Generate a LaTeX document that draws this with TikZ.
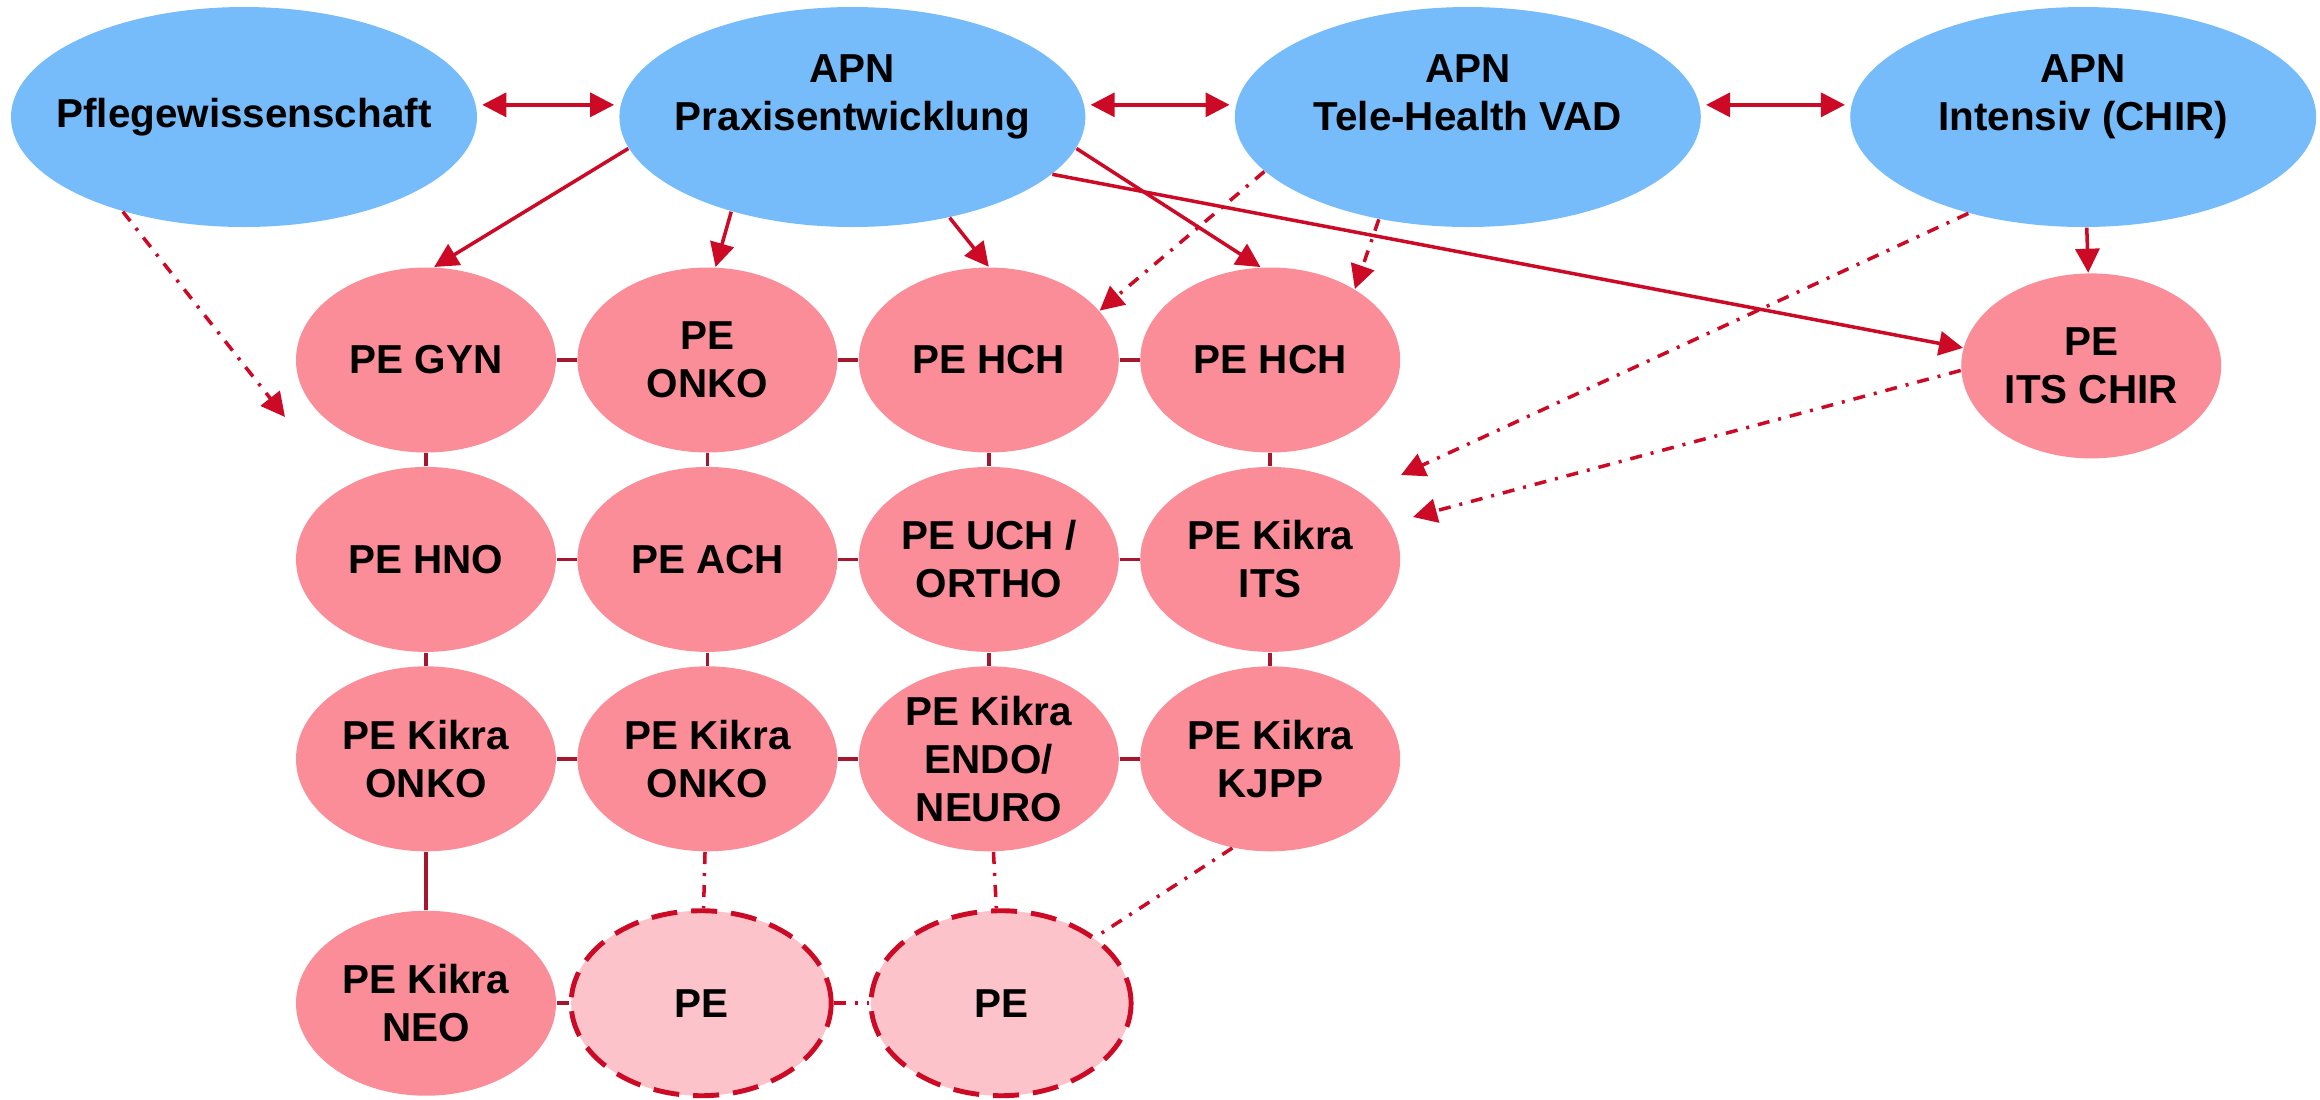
\documentclass[tikz,border=0pt]{standalone}
\usepackage{fontspec}
\setmainfont{Liberation Sans}
\usetikzlibrary{shapes.geometric, arrows.meta, positioning}

\definecolor{apnblue}{HTML}{76BCFB}
\definecolor{pepink}{HTML}{FA8D97}
\definecolor{pelight}{HTML}{FDC3CA}
\definecolor{arrowred}{HTML}{CC0A25}
\definecolor{linkred}{HTML}{A3182F}

\newcommand{\apntext}[1]{\raisebox{0.1cm}[0pt][0pt]{\begin{tabular}{@{}c@{}}APN\\#1\end{tabular}}}

\begin{document}
\begin{tikzpicture}[
        apn/.style={
            ellipse, fill=apnblue, minimum width=4.66cm, minimum height=2.2cm,
            inner xsep=-0.5cm, inner ysep=0pt, font=\fontsize{11.5}{13.7}\selectfont\bfseries
        },
        pe/.style={
            ellipse, fill=pepink, minimum width=2.6cm, minimum height=1.85cm,
            inner sep=0pt, align=center, font=\fontsize{11.5}{13.7}\selectfont\bfseries
        },
        pefree/.style={pe, fill=pelight, draw=arrowred, line width=1.4pt, dash pattern=on 2.6mm off 1.4mm},
        arrow/.style={->, >={Triangle[length=2.4mm, width=2.4mm]}, draw=arrowred, line width=1pt},
        biarrow/.style={arrow, <->, shorten <=0.06cm, shorten >=0.06cm},
        hint/.style={arrow, line width=1pt, dash pattern=on 1.2mm off 0.9mm on 0.3mm off 0.9mm},
        link/.style={draw=linkred, line width=1pt},
        linkhint/.style={draw=arrowred, line width=1pt, dash pattern=on 1.2mm off 0.9mm on 0.3mm off 0.9mm}
    ]
        \useasboundingbox (0,0) rectangle (23.2,-10.99);

        % APN row
        \node[apn] (pflege) at (2.44,-1.17) {Pflegewissenschaft};
        \node[apn, right=1.41cm of pflege] (praxis) {\apntext{Praxisentwicklung}};
        \node[apn, right=1.48cm of praxis] (tele) {\apntext{Tele-Health VAD}};
        \node[apn, right=1.48cm of tele] (intensiv) {\apntext{Intensiv (CHIR)}};

        % PE grid
        \node[pe] (gyn) at (4.26,-3.6) {PE GYN};
        \node[pe, right=0.2cm of gyn] (onko) {PE\\ONKO};
        \node[pe, right=0.2cm of onko] (hch) {PE HCH};
        \node[pe, right=0.2cm of hch] (hchb) {PE HCH};

        \node[pe, below=0.13cm of gyn] (hno) {PE HNO};
        \node[pe, right=0.2cm of hno] (ach) {PE ACH};
        \node[pe, right=0.2cm of ach] (uch) {PE UCH /\\ORTHO};
        \node[pe, right=0.2cm of uch] (kits) {PE Kikra\\ITS};

        \node[pe, below=0.13cm of hno] (konko) {PE Kikra\\ONKO};
        \node[pe, right=0.2cm of konko] (konkob) {PE Kikra\\ONKO};
        \node[pe, right=0.2cm of konkob] (endo) {PE Kikra\\ENDO/\\NEURO};
        \node[pe, right=0.2cm of endo] (kjpp) {PE Kikra\\KJPP};

        \node[pe, below=0.58cm of konko] (neo) {PE Kikra\\NEO};
        \node[pefree, right=0.12cm of neo] (pea) {PE};
        \node[pefree, right=0.35cm of pea] (peb) {PE};

        \node[pe, below=0.45cm of intensiv, xshift=0.08cm] (itschir) {PE\\ITS CHIR};

        % free ends of the hints
        \coordinate (pflegetip) at (2.85,-4.17);
        \coordinate (intensivtip) at (14.01,-4.75);
        \coordinate (itstip) at (14.13,-5.17);

        % grid links
        \draw[link] (gyn) -- (onko);
        \draw[link] (onko) -- (hch);
        \draw[link] (hch) -- (hchb);
        \draw[link] (hno) -- (ach);
        \draw[link] (ach) -- (uch);
        \draw[link] (uch) -- (kits);
        \draw[link] (konko) -- (konkob);
        \draw[link] (konkob) -- (endo);
        \draw[link] (endo) -- (kjpp);
        \draw[link] (gyn) -- (hno);
        \draw[link] (hno) -- (konko);
        \draw[link] (konko) -- (neo);
        \draw[link] (onko) -- (ach);
        \draw[link] (ach) -- (konkob);
        \draw[link] (hch) -- (uch);
        \draw[link] (uch) -- (endo);
        \draw[link] (hchb) -- (kits);
        \draw[link] (kits) -- (kjpp);
        \draw[link] (neo) -- (pea);

        % open places
        \draw[linkhint] (konkob) -- (pea);
        \draw[linkhint] (endo) -- (peb);
        \draw[linkhint] (kjpp.247) -- (peb.35);
        \draw[linkhint] (pea) -- (peb);

        % APN links
        \draw[biarrow] (pflege.3) -- (praxis.177);
        \draw[biarrow] (praxis.3) -- (tele.177);
        \draw[biarrow] (tele.3) -- (intensiv.177);

        \draw[arrow] (praxis.188) -- (gyn.85);
        \draw[arrow] (praxis.218) -- (onko.85);
        \draw[arrow] (praxis.314) -- (hch.north);
        \draw[arrow] (praxis.352) -- (hchb.96);
        \draw[arrow] (praxis.344) -- (itschir.172);
        \draw[arrow] (intensiv) -- (itschir);

        % hints
        \draw[hint] (pflege.218) -- (pflegetip);
        \draw[hint] (tele.195) -- (hch.24);
        \draw[hint] (tele.229) -- (hchb.40);
        \draw[hint] (intensiv.220) -- (intensivtip);
        \draw[hint] (itschir.182) -- (itstip);

    \end{tikzpicture}
\end{document}
